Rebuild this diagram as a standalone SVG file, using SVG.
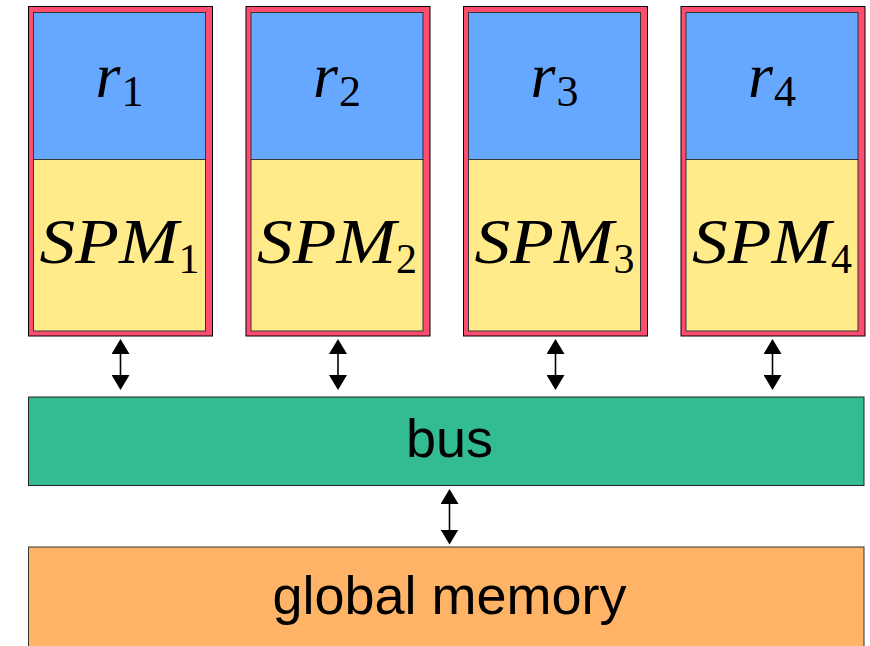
<svg xmlns="http://www.w3.org/2000/svg" width="870" height="646" viewBox="0 0 870 646">
  <style>
    .frame { fill: #ff4d70; stroke: #000; stroke-width: 1; }
    .reg { fill: #66a8ff; stroke: #333; stroke-width: 1; }
    .spm { fill: #ffeb8a; stroke: #333; stroke-width: 1; }
    .bus { fill: #33bb91; stroke: #222; stroke-width: 1; }
    .mem { fill: #ffb366; stroke: #333; stroke-width: 1; }
    .math { font-family: "Liberation Serif", "Times New Roman", serif; font-style: italic; fill: #000; }
    .sub { font-family: "Liberation Serif", "Times New Roman", serif; font-style: normal; fill: #000; }
    .label { font-family: "Liberation Sans", Arial, sans-serif; font-size: 54px; fill: #000; text-anchor: middle; }
    .link { stroke: #000; stroke-width: 1.6; fill: none; marker-start: url(#head); marker-end: url(#head); }
  </style>
  <defs>
    <marker id="head" viewBox="0 0 15 18" markerUnits="userSpaceOnUse" markerWidth="15" markerHeight="18" refX="0.5" refY="9" orient="auto-start-reverse">
      <path d="M0,0 L15,9 L0,18 Z" fill="#000"/>
    </marker>
    <!-- one core: red frame, register block on top, scratchpad below -->
    <g id="unit">
      <rect class="frame" x="0" y="6.5" width="184" height="329.5"/>
      <rect class="reg" x="5" y="12.5" width="172" height="147"/>
      <rect class="spm" x="5" y="159.5" width="172" height="171.5"/>
    </g>
  </defs>

  <g id="core1" transform="translate(28.5,0)">
    <use href="#unit"/>
    <text class="math" font-size="64" x="67" y="97">r</text>
    <text class="sub" font-size="44" x="93" y="106">1</text>
    <text class="math" font-size="63" x="11" y="263" textLength="139" lengthAdjust="spacingAndGlyphs">SPM</text>
    <text class="sub" font-size="42" x="150" y="273">1</text>
  </g>

  <g id="core2" transform="translate(246,0)">
    <use href="#unit"/>
    <text class="math" font-size="64" x="67" y="97">r</text>
    <text class="sub" font-size="44" x="93" y="106">2</text>
    <text class="math" font-size="63" x="11" y="263" textLength="139" lengthAdjust="spacingAndGlyphs">SPM</text>
    <text class="sub" font-size="42" x="150" y="273">2</text>
  </g>

  <g id="core3" transform="translate(463.5,0)">
    <use href="#unit"/>
    <text class="math" font-size="64" x="67" y="97">r</text>
    <text class="sub" font-size="44" x="93" y="106">3</text>
    <text class="math" font-size="63" x="11" y="263" textLength="139" lengthAdjust="spacingAndGlyphs">SPM</text>
    <text class="sub" font-size="42" x="150" y="273">3</text>
  </g>

  <g id="core4" transform="translate(681,0)">
    <use href="#unit"/>
    <text class="math" font-size="64" x="67" y="97">r</text>
    <text class="sub" font-size="44" x="93" y="106">4</text>
    <text class="math" font-size="63" x="11" y="263" textLength="139" lengthAdjust="spacingAndGlyphs">SPM</text>
    <text class="sub" font-size="42" x="150" y="273">4</text>
  </g>

  <g id="bus">
    <rect class="bus" x="28.5" y="397" width="835.5" height="88.5"/>
    <text class="label" x="449.5" y="456.5">bus</text>
  </g>

  <g id="global-memory">
    <rect class="mem" x="28.5" y="547" width="835.5" height="110"/>
    <text class="label" x="449.5" y="614" font-size="55">global memory</text>
  </g>

  <g id="connectors">
    <line class="link" x1="120.5" y1="353.5" x2="120.5" y2="375.5"/>
    <line class="link" x1="338" y1="353.5" x2="338" y2="375.5"/>
    <line class="link" x1="555.5" y1="353.5" x2="555.5" y2="375.5"/>
    <line class="link" x1="772.5" y1="353.5" x2="772.5" y2="375.5"/>
    <line class="link" x1="449.5" y1="503.5" x2="449.5" y2="530"/>
  </g>
</svg>
